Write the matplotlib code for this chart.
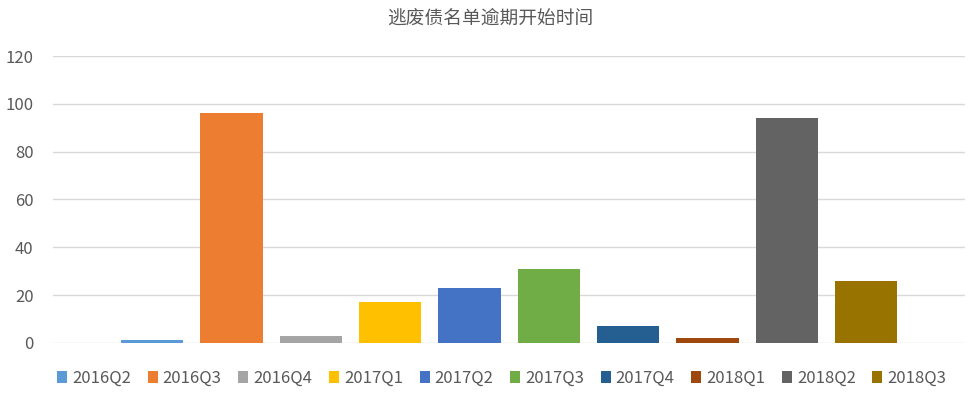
import matplotlib.pyplot as plt
from matplotlib.patches import Patch

plt.rcParams['font.family'] = ['Noto Sans CJK SC', 'DejaVu Sans']

quarters = ['2016Q2', '2016Q3', '2016Q4', '2017Q1', '2017Q2',
            '2017Q3', '2017Q4', '2018Q1', '2018Q2', '2018Q3']
counts = [1, 96, 3, 17, 23, 31, 7, 2, 94, 26]
colors = ['#5B9BD5', '#ED7D31', '#A5A5A5', '#FFC000', '#4472C4',
          '#70AD47', '#255E91', '#9E480E', '#636363', '#997300']

fig = plt.figure(figsize=(9.8, 3.95), dpi=100)
ax = fig.add_axes([0.054, 0.132, 0.931, 0.726])

x = range(len(quarters))
ax.bar(x, counts, width=0.785, color=colors, zorder=2)

ax.set_xlim(-1.25, 10.25)
ax.set_ylim(0, 120)
ax.set_yticks(range(0, 121, 20))
ax.set_xticks([])
ax.grid(axis='y', color='#D9D9D9', linewidth=1, zorder=0)
for s in ax.spines.values():
    s.set_visible(False)
ax.tick_params(axis='y', length=0, pad=14, labelsize=12, labelcolor='#595959')

fig.text(0.5, 0.955, '逃废债名单逾期开始时间', ha='center', va='center',
         fontsize=13.5, color='#595959')

handles = [Patch(facecolor=c) for c in colors]
fig.legend(handles, quarters, loc='center', bbox_to_anchor=(0.512, 0.043),
           ncol=10, frameon=False, fontsize=12, handlelength=0.6,
           handleheight=0.7, handletextpad=0.3, columnspacing=1.0,
           labelcolor='#595959')

fig.savefig('out.png', dpi=100)
